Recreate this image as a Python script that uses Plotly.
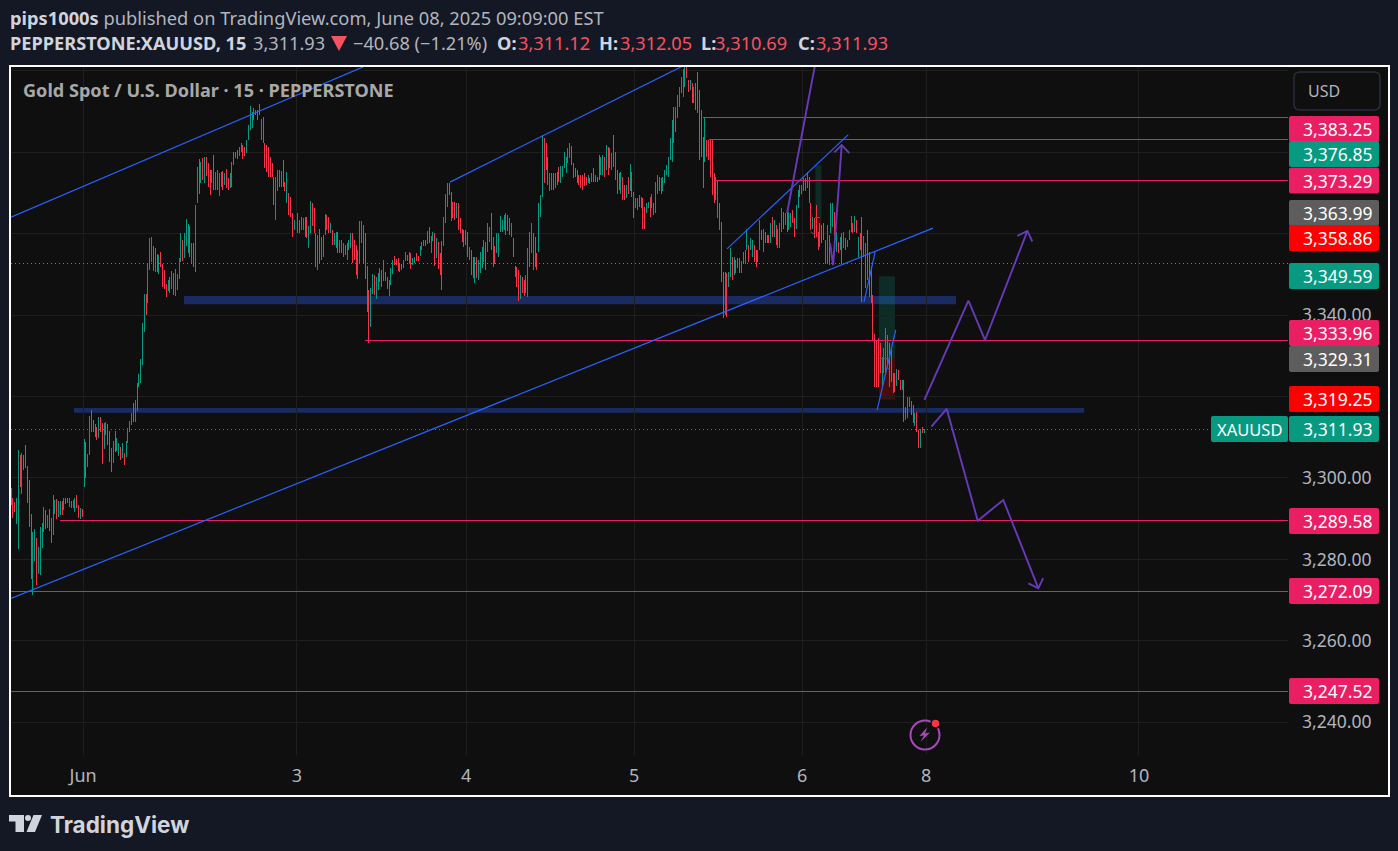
import plotly.graph_objects as go

W, H = 1398, 851
PLOT_L, PLOT_R, PLOT_T, PLOT_B = 11, 1288, 67, 755

# 15 minute bars, one block per session: highs, lows, and g/r for up/down bars
may30_high = [3297.5, 3295.1, 3294.1, 3295.1, 3306.9, 3305.7, 3306.1, 3305.7, 3308.1, 3302.9,
              3299.5, 3291.2, 3286.7, 3287.5, 3285.3, 3283, 3288, 3288.9, 3292.9, 3292.1,
              3290.9, 3292.4, 3290.2, 3295.8, 3294.6, 3294.8, 3294.3, 3294.3, 3294.3, 3295.1,
              3295.1, 3295.1, 3295.1, 3294.3, 3294.6, 3295.1, 3295.8, 3293.4, 3292.6, 3292.4]
may30_low = [3293.4, 3290.2, 3291.6, 3288.7, 3282.6, 3297.8, 3296.1, 3302, 3302.5, 3293.9,
             3288, 3275.2, 3271.3, 3279.6, 3273.7, 3276.4, 3276.2, 3282.8, 3286.7, 3287.5,
             3287.7, 3287, 3284, 3286, 3291.2, 3289.9, 3290.4, 3290.9, 3290.9, 3292.1,
             3293.6, 3293.9, 3292.9, 3292.6, 3292.6, 3291.6, 3292.6, 3290.2, 3289.9, 3290.4]
may30_dir = "rrrggrgrrr" "rrggrggggr" "grrggrggrg" "rrgrggrrgr"

jun2_high = [3309.6, 3308.8, 3305.9, 3315.2, 3316.7, 3314.3, 3313.3, 3312.5, 3315, 3315,
             3313.5, 3313.5, 3313.8, 3313.3, 3311.5, 3307.4, 3309.1, 3311.5, 3309.8, 3308.6,
             3307.6, 3308.6, 3306.1, 3309.1, 3312.3, 3314, 3316, 3318.4, 3319.2, 3323.3,
             3325.6, 3329.2, 3338.1, 3345.2, 3345.2, 3352.8, 3359, 3359.2, 3357, 3356.5,
             3355, 3354.8, 3355.5, 3352.6, 3351.1, 3347.7, 3348.7, 3349.4, 3350.9, 3350.4,
             3351.4, 3350.1, 3354.1, 3360.2, 3358.5, 3360.2, 3363.6, 3362.4, 3361.8, 3357.7,
             3357.7, 3367.1, 3376.3, 3378.3, 3377.7, 3378.7, 3378.8, 3378.8, 3377.3, 3375.7,
             3375.7, 3379.4, 3375.3, 3375.7, 3374.9, 3375.3, 3375.5, 3374.9, 3375.9, 3373.6,
             3374.9, 3377.7, 3380.2, 3380.2, 3380.6, 3381.4, 3382.2, 3381.8, 3381.4, 3383.1,
             3386.7, 3391.3, 3390, 3390.8, 3390.4, 3390.4, 3392, 3388.2, 3388.6, 3382.2,
             3381.8, 3381.4, 3378.9, 3377.3, 3374, 3374, 3375.7, 3375.7, 3375.5, 3378.1,
             3372.8, 3375.3, 3370, 3369.1, 3365, 3363.4]
jun2_low = [3297.8, 3300, 3302.7, 3305.7, 3311.3, 3311.3, 3310.1, 3309.3, 3309.8, 3311.3,
            3303.4, 3307.1, 3310.6, 3308.1, 3303.9, 3301.5, 3303.7, 3306.4, 3306.6, 3305.4,
            3304.4, 3304.9, 3303.2, 3305.2, 3308.6, 3311.3, 3313, 3313.8, 3313.8, 3316.5,
            3322.4, 3323.3, 3327.8, 3335.9, 3340, 3343, 3351.1, 3353.1, 3350.9, 3350.6,
            3350.6, 3350.1, 3351.8, 3346.9, 3346.4, 3344.5, 3346, 3345.5, 3346.4, 3345,
            3344.7, 3346.2, 3348.9, 3353.1, 3353.3, 3354.1, 3356.9, 3355.2, 3354.4, 3352.8,
            3351.9, 3350.7, 3367.5, 3369.9, 3372.4, 3373.2, 3372.4, 3374.1, 3371.6, 3369.5,
            3372.4, 3370.8, 3370.8, 3370.8, 3369.4, 3371.6, 3370.8, 3372, 3371.2, 3370.8,
            3371.2, 3371.6, 3376.9, 3378.6, 3378.3, 3379, 3380.2, 3378.3, 3379, 3379.8,
            3383.1, 3385.5, 3386, 3388, 3389.2, 3388, 3389.2, 3383.1, 3382.2, 3376.1,
            3375.3, 3374, 3374, 3374, 3367.1, 3363.4, 3370.4, 3371.6, 3371.4, 3371.6,
            3370.4, 3367.5, 3364.6, 3364.2, 3359.3, 3360.9]
jun2_dir = ("grgggrrrgr" "rggrrrgrgg" "rgrggggrg"
            "gggggrgggrgrgrrrr" "grgrggggrg" "ggrgrg"
            "grgrgrrrgr" "grggrgrrgg" "ggrggrrggg" "grgrrgrrrr" "rrrggrgrrg" "rrrg")

jun3_high = [3365, 3363.4, 3364.2, 3363.8, 3364.2, 3364.2, 3361.8, 3368, 3367.5, 3366.3,
             3360.1, 3359.7, 3361.3, 3359.3, 3359.7, 3364.9, 3364.6, 3364.2, 3362.6, 3360.9,
             3360.1, 3360.5, 3360.5, 3358.5, 3358.5, 3357.7, 3357.3, 3357.7, 3358.5, 3360.1,
             3360.1, 3358.5, 3357.3, 3356, 3363.1, 3363.1, 3362.1, 3360.1, 3352.2, 3346.2,
             3346.6, 3350.1, 3349.9, 3349.5, 3350.3, 3351.5, 3351.1, 3353.6, 3350.6, 3349.5,
             3348.7, 3351.5, 3353.6, 3354.6, 3353.8, 3354, 3352.9, 3352.5, 3353.6, 3355.5,
             3354.8, 3355.5, 3355.2, 3354, 3354.3, 3355.2, 3354.6, 3357, 3357.9, 3358.5,
             3358.5, 3360.6, 3361.7, 3359.5, 3360.4, 3360.2, 3358.9, 3357.9, 3355.2, 3358.3,
             3364.1, 3369.7, 3372.6, 3372.6, 3370.3, 3367.9, 3367.9, 3367.5, 3367.5, 3363.8,
             3361.3, 3360.9]
jun3_low = [3360.1, 3360.1, 3360.9, 3360.9, 3359.3, 3358.9, 3356.4, 3360.1, 3361.8, 3360.1,
            3351.9, 3351.1, 3352.8, 3353.6, 3354.4, 3359.7, 3360.9, 3360.1, 3360.1, 3357.3,
            3357.3, 3356.4, 3355.2, 3355.2, 3355.2, 3354.4, 3354.8, 3353.6, 3356, 3356.4,
            3352.8, 3353.6, 3349.9, 3349, 3352.8, 3357.7, 3352.8, 3349, 3340.7, 3333.2,
            3337.2, 3345.2, 3345, 3344, 3346.2, 3348.1, 3346.9, 3348.3, 3348.3, 3346.5,
            3344.8, 3347.3, 3350.2, 3352.4, 3352.4, 3350.9, 3350.5, 3351.1, 3351.5, 3353.2,
            3353.2, 3352.5, 3351.4, 3352.4, 3352.8, 3353.4, 3353.2, 3354.6, 3356, 3357.1,
            3357.1, 3357.5, 3357.7, 3355.4, 3358.3, 3352, 3354, 3351.4, 3349.8, 3346.2,
            3357.1, 3362.6, 3366.7, 3369.5, 3363.2, 3364, 3363.4, 3363.8, 3360.9, 3360.1,
            3358.1, 3356.8]
jun3_dir = ("grrgrrggrr" "rgrgggrrgr" "ggrgrgrggg" "rrrgggrrrr" "ggrgggrgrr"
            "gggrrrgrgg" "rgrggrrggg" "rgrggrgrrg" "gggrrrrgrr" "rr")

jun4_high = [3360.9, 3360.5, 3356.8, 3356, 3354.4, 3354.4, 3354.4, 3353.6, 3355.6, 3356.8,
             3358.5, 3358.1, 3362.6, 3361.7, 3365, 3359.3, 3357, 3360.1, 3360.1, 3364.4,
             3363.4, 3364.6, 3365, 3364.5, 3363.8, 3362.6, 3358.9, 3352.2, 3351.9, 3351.1,
             3349.9, 3349.5, 3348.6, 3349.9, 3356.4, 3360.5, 3362.6, 3360.1, 3359.3, 3355.2,
             3367.5, 3369.5, 3384.3, 3383.5, 3382.2, 3378.9, 3374.9, 3374.9, 3374.9, 3374.9,
             3375.3, 3376.5, 3376.7, 3376.7, 3380.2, 3378.9, 3381, 3382.2, 3381.6, 3377.3,
             3376.1, 3375.7, 3374.4, 3374.4, 3374.4, 3374.9, 3374, 3374.4, 3373.6, 3374.9,
             3376.1, 3374.4, 3374, 3379.4, 3378.9, 3379.4, 3378.9, 3381.8, 3381.4, 3381,
             3379.8, 3384.3, 3380.2, 3375.7, 3374.9, 3375.3, 3374, 3372, 3372, 3374,
             3377.1, 3375.3]
jun4_low = [3357.2, 3354.4, 3353.6, 3349.9, 3349.1, 3348, 3349.1, 3348.6, 3350.3, 3351.5,
            3353.1, 3351.1, 3355.6, 3358.1, 3356, 3351.9, 3352.7, 3355.2, 3354.4, 3360.5,
            3360.5, 3360.9, 3359.7, 3360.8, 3359.7, 3359.3, 3354.4, 3349.5, 3347, 3343.6,
            3344.1, 3345.4, 3344.6, 3345.4, 3344.4, 3351.9, 3355.2, 3351.1, 3351.9, 3351.1,
            3355.6, 3364.2, 3369.1, 3372.4, 3375.7, 3372, 3370.4, 3370.8, 3370.8, 3371.2,
            3372, 3372.8, 3372.4, 3374, 3376.1, 3374.9, 3377.3, 3378.5, 3376.9, 3373.6,
            3374, 3372.4, 3372, 3371.2, 3370.8, 3371.7, 3372, 3372.4, 3372.2, 3372.8,
            3372.8, 3372.8, 3372.8, 3373.2, 3374.4, 3374.4, 3374, 3375.7, 3374.4, 3376.1,
            3375.7, 3376.5, 3373.2, 3369.9, 3370.8, 3369.9, 3368.3, 3368.3, 3368.7, 3369.9,
            3370.4, 3369.1]
jun4_dir = ("rrgrrgrggg" "grggrgrggg" "gggrrgrrrr" "grrggggrrr" "gggrrrgrrg"
            "rrggggggrr" "rrrrrrrgrg" "rgrrggrgrr" "grgrrgrrgr" "gr")

jun5_high = [3370.3, 3368.7, 3368.7, 3369.5, 3369.1, 3368.7, 3366.7, 3367.5, 3367.9, 3369.1,
             3369.9, 3367.5, 3372.8, 3374.4, 3374, 3373.6, 3374, 3375.7, 3376.9, 3378.9,
             3383.5, 3388, 3391.2, 3391.2, 3394.1, 3396.1, 3398.6, 3400.6, 3401.5, 3401.5,
             3397.8, 3397.8, 3397, 3396.1, 3397, 3399.8, 3395.3, 3390.4, 3383.9, 3388.4,
             3383, 3383, 3383, 3383, 3374.9, 3374, 3373.2, 3367.5, 3363, 3350.7,
             3350.7, 3350.3, 3350.7, 3356.4, 3354.4, 3354.4, 3353.6, 3354, 3354, 3353.2,
             3355.6, 3356, 3361.3, 3357.2, 3358.9, 3358.5, 3357.2, 3356, 3356, 3363.4,
             3360.9, 3361.3, 3360.5, 3359.7, 3359.7, 3362.6, 3364.2, 3363.4, 3362.2, 3361.3,
             3362.6, 3366.3, 3365.4, 3365, 3365, 3365.4, 3365, 3365.8, 3363.8, 3367.1,
             3370.8, 3372]
jun5_low = [3363.8, 3366.3, 3365.8, 3366.7, 3366.3, 3361.3, 3361.3, 3365, 3366.3, 3364.2,
            3366.3, 3364.6, 3365, 3369.9, 3370.4, 3369.9, 3370.4, 3372.4, 3374.4, 3374,
            3378.1, 3377.7, 3382.2, 3385.1, 3388.4, 3391.2, 3394.5, 3393.7, 3396.1, 3398.2,
            3394.9, 3395.3, 3392.1, 3392.1, 3390.4, 3389.6, 3378.1, 3378.9, 3371.2, 3377.7,
            3378.9, 3378.1, 3374, 3369.5, 3367.5, 3368.3, 3363.8, 3360.9, 3348.2, 3339.2,
            3340, 3339.6, 3347, 3349.5, 3348.6, 3349.9, 3350.3, 3351.5, 3350.3, 3350.3,
            3352.7, 3352.7, 3356, 3353.1, 3356, 3354.4, 3353.1, 3351.9, 3353.1, 3356,
            3358.5, 3355.6, 3357.7, 3357.7, 3357.7, 3357.7, 3359.3, 3359.3, 3357.2, 3356.4,
            3356.4, 3360.5, 3361.3, 3362.2, 3360.5, 3360.9, 3361.7, 3362.6, 3359.3, 3361.3,
            3366.3, 3369.1]
jun5_dir = ("rgrrgrrggr" "grggrggggg" "gggggggggr" "rgrgrrrrrg" "rrrrrrgrrr"
            "grggrgrgrg" "rggrggrrgg" "rgrrrgrgrg" "ggrgrggrrg" "gr")

jun6_high = [3372, 3373.6, 3373.6, 3375.3, 3374, 3367.5, 3364.2, 3363.8, 3367.1, 3360.5,
             3362.6, 3362.2, 3362.6, 3358.5, 3362.2, 3359.7, 3367.6, 3367.6, 3365.4, 3360.5,
             3358.1, 3359.3, 3360.1, 3360.5, 3358.9, 3358.5, 3360.9, 3364.4, 3362.7, 3364.4,
             3363.4, 3359.3, 3360.1, 3364.2, 3359.5, 3357.7, 3360.9, 3355.6, 3352.1, 3345,
             3335.5, 3333.9, 3334.3, 3333.1, 3329.8, 3331.9, 3336.8, 3335.1, 3333.1, 3331.9,
             3325.7, 3325.7, 3326.7, 3326.5, 3324.2, 3324.2, 3324.1, 3317.5, 3320, 3319.8,
             3318.9, 3317.9, 3316, 3316.3, 3311.8, 3312, 3312.6, 3312]
jun6_low = [3369.9, 3370.4, 3370.4, 3371.2, 3367.5, 3360.9, 3361.3, 3358.9, 3359.3, 3356,
            3356.8, 3357.7, 3358.5, 3352.7, 3352.7, 3352.3, 3360.1, 3361.7, 3359.5, 3355.6,
            3355.2, 3356, 3352.7, 3356.4, 3356, 3356.7, 3358.5, 3360.5, 3360.1, 3360.5,
            3360.1, 3354.4, 3356, 3343.3, 3354.4, 3346.6, 3348.6, 3344.5, 3342.9, 3333.9,
            3322.4, 3322.4, 3322.4, 3325.7, 3322.4, 3325.7, 3325.7, 3327.3, 3322.4, 3323.7,
            3321, 3321.2, 3322.6, 3324.1, 3321.6, 3321.6, 3313.8, 3314.2, 3314.7, 3317.5,
            3315.5, 3313.4, 3312.8, 3311.4, 3307.3, 3307.3, 3311, 3311]
jun6_dir = ("ggggrrgrrr" "grrggrggrg" "rgrgrgggrg" "rgrrggrrrr" "rrrrgggrrr"
            "grgrrgrggr" "rrgrrgrg")

sessions = [
    (0, may30_high, may30_low, may30_dir),
    (40, jun2_high, jun2_low, jun2_dir),
    (157, jun3_high, jun3_low, jun3_dir),
    (249, jun4_high, jun4_low, jun4_dir),
    (341, jun5_high, jun5_low, jun5_dir),
    (433, jun6_high, jun6_low, jun6_dir),
]

time_ticks = [39.5, 156.6, 249.2, 341.2, 433.2, 501.1, 617.7]
time_labels = ["Jun", "3", "4", "5", "6", "8", "10"]
price_ticks = [3400, 3380, 3360, 3340, 3320, 3300, 3280, 3260, 3240]
price_labels = ["", "", "", "3,340.00", "", "3,300.00", "3,280.00", "3,260.00", "3,240.00"]

# pink horizontal levels: price, first bar
level_price = [3388.6, 3383.25, 3373.2, 3333.85, 3289.58, 3272.09, 3247.52]
level_start = [379, 382, 385, 194, 27, 0, 0]

prev_close = 3352.61
last_close = 3311.93

trend_lines = [
    ([0, 192.8], [3364.1, 3401]),
    ([240.4, 369.1], [3372.7, 3401.5]),
    ([0, 504.9], [3270.4, 3361.4]),
    ([392.1, 458.4], [3356.3, 3384.3]),
    ([467.1, 473.2], [3343.2, 3355.5]),
    ([474.3, 484.5], [3316.7, 3336.4]),
]
path_lines = [
    ([425, 440.3], [3365.1, 3401.5]),
    ([448.5, 450.2, 454.9], [3357.7, 3352.3, 3381.8]),
    ([450.9, 454.9, 459.1], [3380, 3381.8, 3379.8]),
    ([500.2, 524.3, 533.4, 556.6], [3319.2, 3343.6, 3333.9, 3360.7]),
    ([551.1, 556.6, 559.3], [3359.5, 3360.7, 3358.1]),
    ([504, 512.4, 529.4, 543.4, 562.6], [3312.6, 3317, 3289.5, 3294.6, 3272.9]),
    ([557.1, 562.6, 565.2], [3274.1, 3272.9, 3275.4]),
]
# small grey marks left by the position tools
tool_marks = [
    ([440.3, 443], [3363.99, 3363.99]),
    ([438, 440.3], [3360.5, 3359.7]),
    ([475.3, 479.6], [3329.31, 3329.31]),
    ([479.6, 481.4], [3327.2, 3326.4]),
]
# navy zones: first bar, last bar, top, bottom
zone_boxes = [(94.7, 517.5, 3344.7, 3342.7), (34.5, 587.7, 3317.2, 3316)]
# position tools: first bar, last bar, target, entry, stop
position_boxes = [(440.5, 443.8, 3376.85, 3363.99, 3358.86),
                  (475.3, 484.1, 3349.59, 3329.31, 3319.25)]

# price tags: text, colour, top of tag in pixels
tag_text = ["3,383.25", "3,376.85", "3,373.29", "3,363.99", "3,358.86", "3,349.59", "3,333.96",
            "3,329.31", "3,319.25", "3,311.93", "3,289.58", "3,272.09", "3,247.52"]
tag_color = ["#e91e63", "#089981", "#e91e63", "#5d5d5d", "#ff0000", "#089981", "#e91e63",
             "#5d5d5d", "#ff0000", "#089981", "#e91e63", "#e91e63", "#e91e63"]
tag_top = [116, 141, 167.5, 200, 225, 263, 320, 346, 386, 416, 508, 578, 678]

UP, DOWN = "#089981", "#f7334a"
BLUE, PURPLE = "#2962ff", "#673ab7"
BG, PANEL = "#131824", "#0f0f0f"
TEXT, MUTED = "#d1d4dc", "#b2b5be"
RED_TEXT = "#f7525f"
FONT = "Noto Sans"
BAR_PX = (PLOT_R - PLOT_L) / 699.3

# second header line: text pieces and where each one starts
quote_parts = ["<b>PEPPERSTONE:XAUUSD, 15</b>", "3,311.93", "−40.68 (−1.21%)",
               "<b>O:</b>", "3,311.12", "<b>H:</b>", "3,312.05",
               "<b>L:</b>", "3,310.69", "<b>C:</b>", "3,311.93"]
quote_left = [8, 251, 351, 495, 516, 597, 618, 699, 713, 796, 814]
quote_color = [TEXT, MUTED, MUTED, TEXT, RED_TEXT, TEXT, RED_TEXT, TEXT, RED_TEXT, TEXT, RED_TEXT]


def paper_x(px):
    return (px - PLOT_L) / (PLOT_R - PLOT_L)


def paper_y(py):
    return (PLOT_B - py) / (PLOT_B - PLOT_T)


def round_rect(x0, y0, x1, y1, r=2):
    pts = [("M", x0 + r, y0), ("L", x1 - r, y0), ("Q", x1, y0, x1, y0 + r), ("L", x1, y1 - r),
           ("Q", x1, y1, x1 - r, y1), ("L", x0 + r, y1), ("Q", x0, y1, x0, y1 - r),
           ("L", x0, y0 + r), ("Q", x0, y0, x0 + r, y0)]
    out = []
    for p in pts:
        coords = []
        for i in range(1, len(p), 2):
            coords.append(f"{paper_x(p[i]):.5f},{paper_y(p[i + 1]):.5f}")
        out.append(p[0] + " ".join(coords))
    return " ".join(out) + " Z"


def poly(points):
    return "M" + " L".join(f"{paper_x(x):.5f},{paper_y(y):.5f}" for x, y in points) + " Z"


def label(x, y, text, size=17.5, color="#ffffff", anchor="center", family=FONT):
    fig.add_annotation(xref="paper", yref="paper", x=paper_x(x), y=paper_y(y), text=text,
                       showarrow=False, xanchor=anchor, yanchor="middle",
                       font=dict(family=family, size=size, color=color))


bar_x, opens, highs, lows, closes = [], [], [], [], []
for start, s_high, s_low, s_dir in sessions:
    for k, (h, l, d) in enumerate(zip(s_high, s_low, s_dir, strict=True)):
        bar_x.append(start + k)
        highs.append(h)
        lows.append(l)
        opens.append(l if d == "g" else h)
        closes.append(h if d == "g" else l)

fig = go.Figure()
fig.add_trace(go.Ohlc(
    x=bar_x, open=opens, high=highs, low=lows, close=closes, tickwidth=0,
    increasing=dict(line=dict(color=UP, width=1)),
    decreasing=dict(line=dict(color=DOWN, width=1)),
    hoverinfo="skip", showlegend=False,
))

x_end = (PLOT_R - PLOT_L) / BAR_PX
for price, start in zip(level_price, level_start):
    fig.add_trace(go.Scatter(x=[start, x_end], y=[price, price], mode="lines",
                             line=dict(color="#e91e63", width=1),
                             hoverinfo="skip", showlegend=False))
fig.add_trace(go.Scatter(x=[0, x_end], y=[prev_close, prev_close], mode="lines",
                         line=dict(color="#787b86", width=1, dash="1px 3px"),
                         hoverinfo="skip", showlegend=False))
fig.add_trace(go.Scatter(x=[0, x_end], y=[last_close, last_close], mode="lines",
                         line=dict(color=UP, width=1, dash="1px 3px"),
                         hoverinfo="skip", showlegend=False))
for xs, ys in tool_marks:
    fig.add_trace(go.Scatter(x=xs, y=ys, mode="lines", line=dict(color="#5d5d5d", width=1),
                             hoverinfo="skip", showlegend=False))
for xs, ys in trend_lines:
    fig.add_trace(go.Scatter(x=xs, y=ys, mode="lines", line=dict(color=BLUE, width=1.2),
                             hoverinfo="skip", showlegend=False))
for xs, ys in path_lines:
    fig.add_trace(go.Scatter(x=xs, y=ys, mode="lines", line=dict(color=PURPLE, width=1.9),
                             hoverinfo="skip", showlegend=False))

# frame of the chart panel
fig.add_shape(type="rect", xref="paper", yref="paper", layer="below",
              x0=paper_x(10), x1=paper_x(1389), y0=paper_y(796), y1=paper_y(66),
              fillcolor=PANEL, line=dict(color="#ffffff", width=2))

for x0, x1, top, bottom in zone_boxes:
    fig.add_shape(type="rect", x0=x0, x1=x1, y0=bottom, y1=top, layer="below",
                  fillcolor="#1a2b62", line_width=0)
for x0, x1, target, entry, stop in position_boxes:
    fig.add_shape(type="rect", x0=x0, x1=x1, y0=entry, y1=target, layer="below",
                  fillcolor="rgba(8,153,129,0.2)", line_width=0)
    fig.add_shape(type="rect", x0=x0, x1=x1, y0=stop, y1=entry, layer="below",
                  fillcolor="rgba(255,0,0,0.25)", line_width=0)

# price scale tags, drawn over the tick labels
for text, color, top in zip(tag_text, tag_color, tag_top):
    fig.add_shape(type="path", xref="paper", yref="paper", layer="above",
                  path=round_rect(1289, top, 1379, top + 26), fillcolor=color, line_width=0)
    label(1337.5, top + 13, text)
fig.add_shape(type="path", xref="paper", yref="paper", layer="above",
              path=round_rect(1211, 416, 1288, 442), fillcolor=UP, line_width=0)
label(1249.5, 429, "XAUUSD", size=16.5)

# currency button
fig.add_shape(type="path", xref="paper", yref="paper", layer="above",
              path=round_rect(1294, 72, 1380, 110, r=6), line=dict(color="#2a2e39", width=1.5))
label(1324, 90.5, "USD", size=16, color=MUTED)

# lightning badge
fig.add_shape(type="circle", xref="paper", yref="paper", layer="above",
              x0=paper_x(910.5), x1=paper_x(939.5), y0=paper_y(749.5), y1=paper_y(720.5),
              line=dict(color="#ab47bc", width=2))
fig.add_shape(type="circle", xref="paper", yref="paper", layer="above",
              x0=paper_x(931), x1=paper_x(940), y0=paper_y(728), y1=paper_y(719),
              fillcolor="#f23645", line=dict(color=PANEL, width=1.5))
fig.add_shape(type="path", xref="paper", yref="paper", layer="above",
              path=poly([(927, 727.5), (919.5, 736), (924, 735.5), (920.5, 742),
                         (930, 732.5), (925, 733.5)]),
              fillcolor="#ab47bc", line_width=0)

# TradingView mark
for points in ([(9, 815), (24, 815), (24, 832), (15.5, 832), (15.5, 821.5), (9, 821.5)],
               [(33.5, 815), (42, 815), (35, 832), (26.5, 832)]):
    fig.add_shape(type="path", xref="paper", yref="paper", layer="above",
                  path=poly(points), fillcolor="#d1d4dc", line_width=0)
fig.add_shape(type="circle", xref="paper", yref="paper", layer="above",
              x0=paper_x(25), x1=paper_x(31), y0=paper_y(821), y1=paper_y(815),
              fillcolor="#d1d4dc", line_width=0)
label(47.5, 824, "<b>TradingView</b>", size=22.5, color="#d1d4dc", anchor="left", family="Inter")

label(8, 18, f'<b>pips1000s</b> <span style="color:{MUTED}">published on TradingView.com, '
             'June 08, 2025 09:09:00 EST</span>', size=18.3, color=TEXT, anchor="left")
for text, left, color in zip(quote_parts, quote_left, quote_color):
    label(left, 43, text, size=18.2, color=color, anchor="left")
fig.add_shape(type="path", xref="paper", yref="paper", layer="above",
              path=poly([(331, 36), (347, 36), (339, 51)]), fillcolor=RED_TEXT, line_width=0)
label(21, 89.5, "<b>Gold Spot / U.S. Dollar · 15 · PEPPERSTONE</b>", size=18.1, color="#a8a8a8",
      anchor="left")

fig.update_layout(
    width=W, height=H,
    margin=dict(l=PLOT_L, r=W - PLOT_R, t=PLOT_T, b=H - PLOT_B),
    paper_bgcolor=BG, plot_bgcolor=PANEL,
    font=dict(family=FONT, color=MUTED),
    hovermode=False, dragmode=False, showlegend=False,
    xaxis=dict(range=[0, x_end], rangeslider=dict(visible=False), tickmode="array",
               tickvals=time_ticks, ticktext=time_labels, ticklabelstandoff=8,
               tickfont=dict(size=18, color=MUTED), showline=False, ticks="",
               gridcolor="#1e1e1e", gridwidth=1, zeroline=False),
    yaxis=dict(range=[3231.94, 3400.98], side="right", tickmode="array", tickvals=price_ticks,
               ticktext=price_labels, ticklabelstandoff=13,
               tickfont=dict(size=17.5, color=MUTED), showline=False, ticks="",
               gridcolor="#1e1e1e", gridwidth=1, zeroline=False),
)

# sharp 1px bars and levels, as in the screenshot
post = """
document.body.style.margin='0';document.body.style.overflow='hidden';
document.querySelectorAll('.ohlclayer path').forEach(p=>p.style.shapeRendering='crispEdges');
document.querySelectorAll('.scatterlayer .trace').forEach((t,i)=>{
  if(i<9){t.querySelectorAll('.js-line').forEach(p=>p.style.shapeRendering='crispEdges');}
});
"""
fig.write_html("out.html", config={"displayModeBar": False}, post_script=post)
